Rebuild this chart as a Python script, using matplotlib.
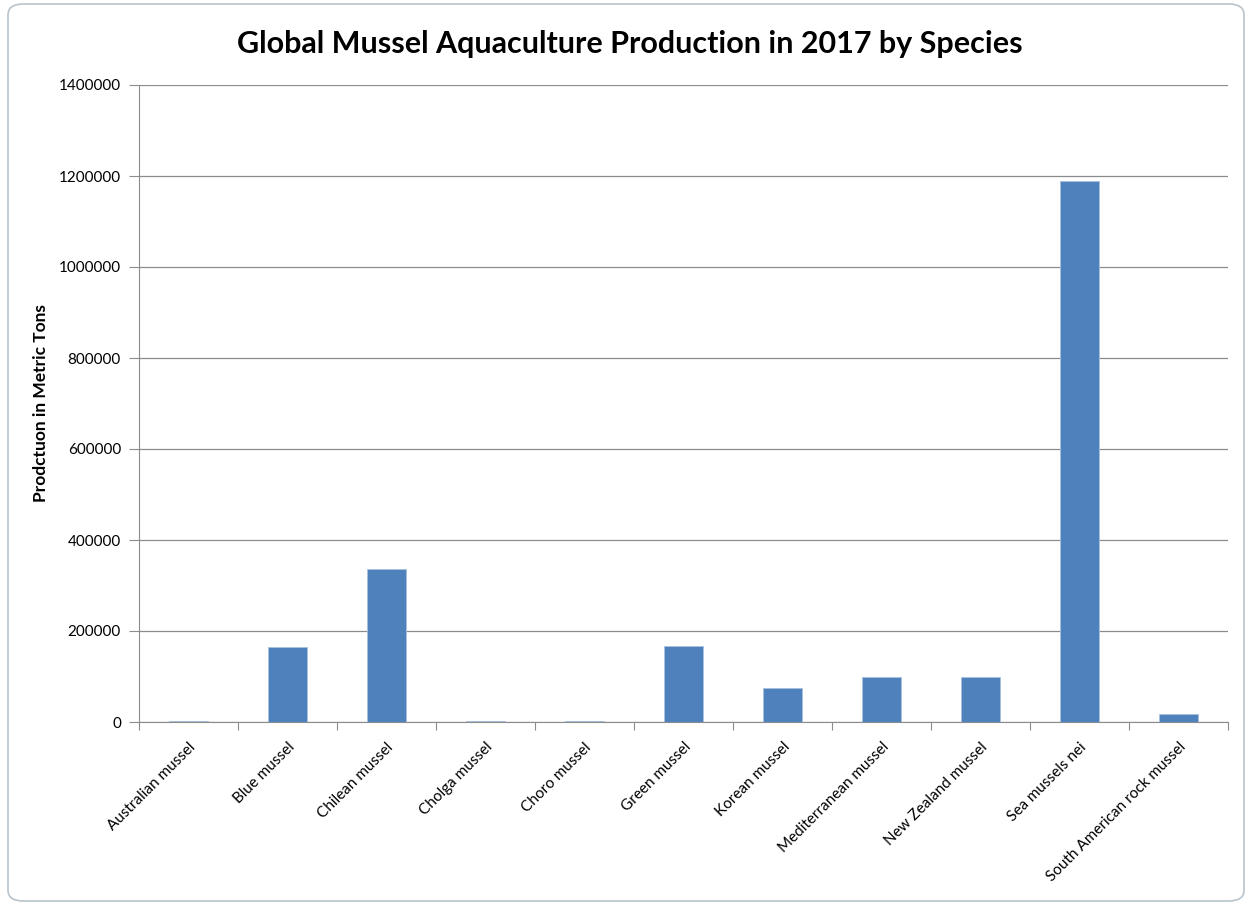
"""Global mussel aquaculture production in 2017, bar chart in Excel style."""

import matplotlib.pyplot as plt
from matplotlib.patches import FancyBboxPatch

species = [
    "Australian mussel",
    "Blue mussel",
    "Chilean mussel",
    "Cholga mussel",
    "Choro mussel",
    "Green mussel",
    "Korean mussel",
    "Mediterranean mussel",
    "New Zealand mussel",
    "Sea mussels nei",
    "South American rock mussel",
]
production = [3000, 165000, 337000, 3000, 3000, 167000, 75000, 99000, 99000, 1189000, 17000]
y_ticks = [0, 200000, 400000, 600000, 800000, 1000000, 1200000, 1400000]

BAR = "#4f81bd"
GRID = "#8c8c8c"

plt.rcParams["font.family"] = ["Lato", "DejaVu Sans"]

fig = plt.figure(figsize=(12.48, 9.09), dpi=100)
# rounded chart border, drawn behind everything
fig.patches.append(FancyBboxPatch(
    (8 / 1248, 8 / 909), 1236 / 1248, 897 / 909,
    boxstyle="round,pad=0,rounding_size=0.012", transform=fig.transFigure,
    facecolor="none", edgecolor="#b8c4cc", linewidth=1.2, zorder=-1))

ax = fig.add_axes([139 / 1248, 187 / 909, 1089 / 1248, 637 / 909])
ax.set_facecolor("none")
x = list(range(len(species)))
ax.bar(x, production, width=0.4, color=BAR, edgecolor="#a9c0de", linewidth=0.6, zorder=3)

ax.set_xlim(-0.5, len(species) - 0.5)
ax.set_ylim(0, 1400000)
ax.set_yticks(y_ticks)
ax.set_yticklabels([str(v) for v in y_ticks], fontsize=11)
ax.grid(axis="y", color=GRID, linewidth=0.9, zorder=0)

# tick marks between categories, labels at category centres
ax.set_xticks([i + 0.5 for i in range(-1, len(species))])
ax.set_xticklabels([])
ax.set_xticks(x, minor=True)
ax.set_xticklabels(species, minor=True, rotation=45, ha="right",
                   rotation_mode="anchor", fontsize=11)
ax.tick_params(axis="x", which="major", length=6, color=GRID, direction="out")
ax.tick_params(axis="x", which="minor", length=0, pad=13)
ax.tick_params(axis="y", length=7, color=GRID, pad=6)

for side in ("top", "right"):
    ax.spines[side].set_visible(False)
for side in ("left", "bottom"):
    ax.spines[side].set_color(GRID)

ax.set_ylabel("Prodctuon in Metric Tons", fontsize=12.5, fontweight="bold")
ax.yaxis.set_label_coords(-0.0826, 0.5)
fig.text(630 / 1248, 1 - 44 / 909, "Global Mussel Aquaculture Production in 2017 by Species",
         ha="center", va="center", fontsize=22, fontweight="bold")

fig.savefig("out.png", dpi=100)
